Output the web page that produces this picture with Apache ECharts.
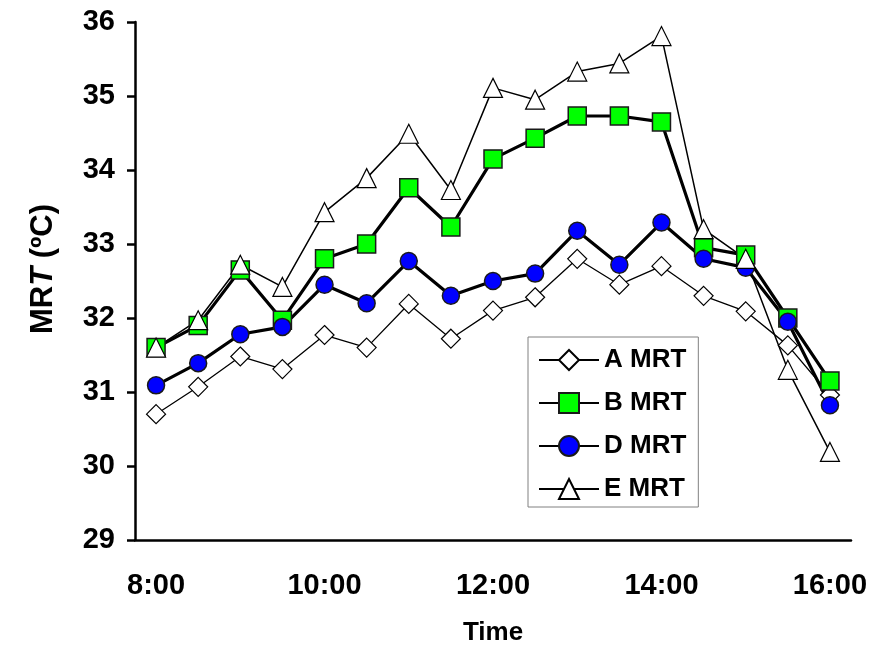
<!DOCTYPE html>
<html>
<head>
<meta charset="utf-8">
<script src="https://cdn.jsdelivr.net/npm/echarts@6/dist/echarts.min.js"></script>
<style>
  html, body { margin: 0; padding: 0; background: #fff; }
  #chart { width: 884px; height: 645px; }
</style>
</head>
<body>
<div id="chart"></div>
<script>
// half-hour readings, 8:00 to 16:00
const times = ['8:00', '8:30', '9:00', '9:30', '10:00', '10:30', '11:00', '11:30', '12:00',
  '12:30', '13:00', '13:30', '14:00', '14:30', '15:00', '15:30', '16:00'];

const aMRT = [30.7, 31.07, 31.48, 31.31, 31.77, 31.6, 32.19, 31.72, 32.1, 32.28, 32.8, 32.45, 32.7, 32.3, 32.09, 31.63, 30.96];
const bMRT = [31.6, 31.9, 32.65, 31.97, 32.8, 33.0, 33.76, 33.23, 34.15, 34.43, 34.73, 34.73, 34.65, 32.95, 32.85, 32.0, 31.15];
const dMRT = [31.09, 31.39, 31.78, 31.88, 32.45, 32.2, 32.77, 32.3, 32.5, 32.6, 33.18, 32.72, 33.29, 32.8, 32.68, 31.95, 30.82];
const eMRT = [31.6, 31.97, 32.72, 32.42, 33.43, 33.89, 34.49, 33.73, 35.11, 34.95, 35.33, 35.44, 35.81, 33.2, 32.8, 31.3, 30.19];

const yTicks = [29, 30, 31, 32, 33, 34, 35, 36];

const font = '"Liberation Sans", Arial, sans-serif';
const chart = echarts.init(document.getElementById('chart'));

chart.setOption({
  animation: false,
  backgroundColor: '#fff',
  textStyle: { fontFamily: font },
  grid: { left: 135, right: 33, top: 22, bottom: 105, outerBoundsMode: 'none', containLabel: false },
  legend: {
    orient: 'vertical',
    left: 528,
    top: 337,
    padding: [10, 12, 5, 10],
    itemWidth: 60,
    itemHeight: 25,
    itemGap: 17,
    itemTextGap: 8,
    borderColor: '#808080',
    borderWidth: 1,
    backgroundColor: '#fff',
    textStyle: { fontFamily: font, fontSize: 26, fontWeight: 'bold', color: '#000', lineHeight: 25 },
    data: ['A MRT', 'B MRT', 'D MRT', 'E MRT']
  },
  xAxis: {
    type: 'category',
    data: times,
    boundaryGap: true,
    name: 'Time',
    nameLocation: 'middle',
    nameGap: 80,
    nameTextStyle: { fontFamily: font, fontSize: 26, fontWeight: 'bold', color: '#000' },
    axisLine: { lineStyle: { color: '#000', width: 2.5 } },
    axisTick: { inside: true, length: 10, interval: 1, lineStyle: { color: '#000', width: 2.5 } },
    axisLabel: {
      interval: 3, margin: 31, color: '#000', fontFamily: font, fontSize: 29, fontWeight: 'bold'
    },
    splitLine: { show: false }
  },
  yAxis: {
    type: 'value',
    min: yTicks[0],
    max: yTicks[yTicks.length - 1],
    interval: 1,
    name: '{a|MR}{b|T}{a| (ºC)}',
    nameLocation: 'middle',
    nameGap: 76,
    nameTextStyle: {
      padding: [0, 0, 0, 24],
      rich: {
        a: { fontFamily: font, fontSize: 31, fontWeight: 'bold', color: '#000' },
        b: { fontFamily: font, fontSize: 31, fontWeight: 'bold', fontStyle: 'italic', color: '#000' }
      }
    },
    axisLine: { show: true, lineStyle: { color: '#000', width: 2.5 } },
    axisTick: { show: true, length: 8, lineStyle: { color: '#000', width: 2.5 } },
    axisLabel: { margin: 20, color: '#000', fontFamily: font, fontSize: 29, fontWeight: 'bold' },
    splitLine: { show: false }
  },
  series: [
    {
      name: 'A MRT', type: 'line', data: aMRT,
      symbol: 'diamond', symbolSize: 19,
      lineStyle: { color: '#000', width: 1.3 },
      itemStyle: { color: '#fff', borderColor: '#000', borderWidth: 1.2 }
    },
    {
      name: 'B MRT', type: 'line', data: bMRT,
      symbol: 'rect', symbolSize: 18,
      lineStyle: { color: '#000', width: 3.2 },
      itemStyle: { color: '#00ff00', borderColor: '#1a1a1a', borderWidth: 1.5 }
    },
    {
      name: 'D MRT', type: 'line', data: dMRT,
      symbol: 'circle', symbolSize: 17,
      lineStyle: { color: '#000', width: 3.2 },
      itemStyle: { color: '#0000ff', borderColor: '#1a1a1a', borderWidth: 1.5 }
    },
    {
      name: 'E MRT', type: 'line', data: eMRT,
      symbol: 'triangle', symbolSize: 19,
      lineStyle: { color: '#000', width: 1.5 },
      itemStyle: { color: '#fff', borderColor: '#000', borderWidth: 1.2 }
    }
  ]
});
</script>
</body>
</html>
